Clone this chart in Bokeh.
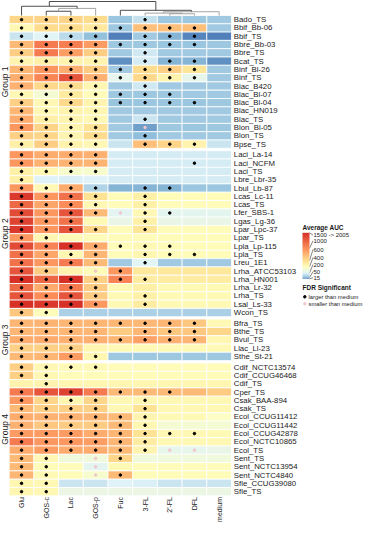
import numpy as np
from bokeh.plotting import figure
from bokeh.models import ColumnDataSource, LinearColorMapper, ColorBar, Range1d, FixedTicker
from bokeh.embed import file_html
from bokeh.resources import INLINE
from bokeh.core.properties import value

# ---------------- data ----------------
conditions = ["Glu", "GOS-c", "Lac", "GOS-p", "Fuc", "3-FL", "2'-FL", "DFL", "medium"]
group_names = ["Group 1", "Group 2", "Group 3", "Group 4"]

group1_strains = ["Bado_TS", "Bbif_Bb-06", "Bbif_TS", "Bbre_Bb-03", "Bbre_TS", "Bcat_TS",
                  "Binf_Bl-26", "Binf_TS", "Blac_B420", "Blac_Bl-07", "Blac_Bl-04",
                  "Blac_HN019", "Blac_TS", "Blon_Bl-05", "Blon_TS", "Bpse_TS"]
group1_auc = [
    [650, 660, 660, 620, 70, 150, 75, 75, 80],
    [450, 620, 620, 540, 75, 760, 760, 760, 80],
    [160, 210, 130, 55, 22, 80, 45, 24, 22],
    [780, 1100, 1080, 930, 75, 75, 70, 70, 75],
    [690, 1100, 920, 690, 80, 170, 80, 80, 80],
    [470, 500, 470, 480, 28, 180, 45, 45, 28],
    [800, 950, 840, 700, 80, 620, 680, 560, 80],
    [840, 1030, 1300, 820, 240, 640, 480, 250, 80],
    [820, 640, 620, 460, 80, 170, 80, 80, 80],
    [450, 330, 530, 430, 75, 75, 75, 80, 80],
    [680, 450, 640, 470, 65, 70, 70, 70, 75],
    [800, 450, 480, 460, 80, 80, 80, 80, 80],
    [850, 500, 470, 450, 80, 160, 80, 80, 80],
    [950, 660, 480, 580, 80, 35, 75, 70, 75],
    [680, 650, 470, 620, 80, 50, 80, 80, 80],
    [500, 690, 480, 450, 160, 760, 660, 480, 160],
]
group1_sig = ["111101000", "111111110", "111101110", "111111110", "111101000", "111101110",
              "111111110", "111111110", "111101000", "111111100", "111111110", "111100000",
              "111101000", "111102000", "111101000", "111101110"]

group2_strains = ["Laci_La-14", "Laci_NCFM", "Laci_TS", "Lbre_Lbr-35", "Lbul_Lb-87",
                  "Lcas_Lc-11", "Lcas_TS", "Lfer_SBS-1", "Lgas_Lg-36", "Lpar_Lpc-37",
                  "Lpar_TS", "Lpla_Lp-115", "Lpla_TS", "Lreu_1E1", "Lrha_ATCC53103",
                  "Lrha_HN001", "Lrha_Lr-32", "Lrha_TS", "Lsal_Ls-33", "Wcon_TS"]
group2_auc = [
    [950, 850, 850, 830, 180, 180, 180, 180, 180],
    [950, 820, 810, 810, 180, 180, 180, 180, 180],
    [500, 450, 350, 350, 180, 180, 180, 180, 180],
    [500, 200, 190, 200, 180, 180, 180, 180, 180],
    [950, 450, 850, 110, 45, 45, 45, 70, 70],
    [1450, 950, 1150, 580, 430, 500, 430, 430, 430],
    [1200, 880, 1000, 450, 420, 500, 420, 420, 420],
    [1350, 950, 1300, 780, 220, 450, 230, 230, 230],
    [1400, 950, 1150, 440, 260, 500, 260, 260, 260],
    [1450, 950, 1300, 650, 430, 560, 430, 430, 430],
    [950, 460, 440, 430, 430, 430, 430, 430, 430],
    [1350, 1050, 1550, 850, 430, 450, 430, 430, 430],
    [1150, 880, 460, 800, 430, 460, 430, 430, 430],
    [1150, 950, 1100, 780, 80, 210, 80, 80, 80],
    [1300, 700, 480, 430, 950, 550, 550, 550, 550],
    [1550, 1200, 1600, 680, 1050, 520, 520, 520, 520],
    [1200, 850, 1100, 700, 440, 500, 440, 440, 440],
    [1300, 1000, 1300, 700, 440, 500, 440, 440, 440],
    [1550, 1450, 1500, 950, 440, 520, 440, 440, 440],
    [720, 420, 100, 100, 100, 100, 100, 100, 100],
]
group2_sig = ["111100000", "111100010", "111100000", "100000000", "111101100",
              "111101000", "111101000", "111121100", "111001000", "111101000",
              "110000000", "111111100", "111101110", "111101000", "110210000",
              "111111000", "111100000", "111101000", "111101000", "110000000"]

group3_strains = ["Bfra_TS", "Bthe_TS", "Bvul_TS", "Llac_Ll-23", "Sthe_St-21"]
group3_auc = [
    [800, 810, 800, 800, 800, 790, 800, 720, 440],
    [800, 800, 800, 800, 700, 800, 720, 720, 650],
    [850, 850, 830, 830, 800, 900, 820, 800, 460],
    [680, 680, 680, 460, 440, 440, 440, 440, 440],
    [780, 800, 930, 460, 75, 75, 75, 75, 75],
]
group3_sig = ["111111110", "111101110", "111111110", "111000000", "111100000"]

group4_strains = ["Cdif_NCTC13574", "Cdif_CCUG46468", "Cdif_TS", "Cper_TS", "Csak_BAA-894",
                  "Csak_TS", "Ecol_CCUG11412", "Ecol_CCUG11442", "Ecol_CCUG42878",
                  "Ecol_NCTC10865", "Ecol_TS", "Sent_TS", "Sent_NCTC13954", "Sent_NCTC4840",
                  "Sfle_CCUG39080", "Sfle_TS"]
group4_auc = [
    [680, 450, 440, 440, 430, 430, 430, 430, 430],
    [680, 450, 430, 430, 430, 430, 430, 430, 430],
    [480, 470, 460, 460, 460, 460, 460, 460, 460],
    [1100, 1300, 1400, 1100, 780, 780, 780, 780, 700],
    [950, 650, 460, 650, 450, 460, 450, 450, 450],
    [780, 680, 680, 680, 450, 580, 450, 450, 450],
    [850, 820, 820, 800, 780, 470, 440, 440, 380],
    [820, 720, 700, 700, 780, 460, 330, 330, 330],
    [930, 930, 930, 850, 800, 580, 450, 450, 440],
    [1100, 950, 950, 920, 800, 520, 450, 450, 450],
    [850, 920, 850, 850, 780, 470, 250, 250, 260],
    [780, 450, 300, 300, 650, 300, 300, 300, 300],
    [780, 430, 420, 230, 440, 420, 420, 420, 420],
    [800, 440, 430, 350, 780, 430, 430, 430, 430],
    [460, 450, 160, 160, 200, 190, 160, 160, 160],
    [460, 450, 270, 270, 270, 270, 270, 270, 270],
]
group4_sig = ["111100000", "110000000", "010000000", "111111100", "111101000",
              "111101000", "111111000", "111111000", "111111110", "111111000",
              "111111220", "110210000", "110200000", "110210000", "110000000", "110000000"]

# column dendrogram: merge steps (children are condition names or earlier nodes "n<i>")
dend_left = ["GOS-c", "n0", "Glu", "2'-FL", "3-FL", "n4", "Fuc", "n2"]
dend_right = ["Lac", "GOS-p", "n1", "DFL", "n3", "medium", "n5", "n6"]
dend_height = [6.0, 10.0, 13.0, 2.5, 3.3, 5.3, 7.3, 19.7]
dend_color = ["#3a3a3a", "#9a9a9a", "#3a3a3a", "#9a9a9a", "#9a9a9a", "#9a9a9a", "#3a3a3a", "#3a3a3a"]

legend_ticks = [15, 50, 200, 400, 600, 1000, 1500]
legend_tick_labels = ["15", "50", "200", "400", "600", "1000", "1500 -> 2005"]
break_colors = ["#4575b4", "#91bfdb", "#e0f3f8", "#ffffbf", "#fee090", "#fc8d59", "#d73027"]

# ---------------- layout (page pixels) ----------------
W, H = 363, 522
def PX(x):
    return x - 8
def PY(y):
    return 530 - y

FONT = value("Liberation Sans")
hm_left = 16.7
cw = 24.7
hm_top = 23.0
rh = 8.3
gap = 2.4

# ---------------- color mapper ----------------
lo, hi = legend_ticks[0], legend_ticks[-1]
rgb = np.array([[int(c[i:i + 2], 16) for i in (1, 3, 5)] for c in break_colors], float)
vals = np.linspace(lo, hi, 600)
pal = []
for v in vals:
    r = np.interp(v, legend_ticks, rgb[:, 0])
    g = np.interp(v, legend_ticks, rgb[:, 1])
    b = np.interp(v, legend_ticks, rgb[:, 2])
    pal.append("#%02x%02x%02x" % (int(round(r)), int(round(g)), int(round(b))))
mapper = LinearColorMapper(palette=pal, low=lo, high=hi)

# ---------------- build cell table ----------------
groups = [(group1_strains, group1_auc, group1_sig),
          (group2_strains, group2_auc, group2_sig),
          (group3_strains, group3_auc, group3_sig),
          (group4_strains, group4_auc, group4_sig)]

cx, cy, cv = [], [], []
d1x, d1y, d2x, d2y = [], [], [], []
lab_x, lab_y, lab_t = [], [], []
grp_y = []
k = 0
for gi, (strains, auc, sig) in enumerate(groups):
    ys = []
    for ri, name in enumerate(strains):
        top = hm_top + k * rh + gi * gap
        yc = PY(top + rh / 2)
        ys.append(yc)
        for ci in range(len(conditions)):
            xc = PX(hm_left + (ci + 0.5) * cw)
            cx.append(xc); cy.append(yc); cv.append(auc[ri][ci])
            if sig[ri][ci] == "1":
                d1x.append(xc); d1y.append(yc)
            elif sig[ri][ci] == "2":
                d2x.append(xc); d2y.append(yc)
        lab_x.append(PX(hm_left + len(conditions) * cw + 2.3)); lab_y.append(yc); lab_t.append(name)
        k += 1
    grp_y.append((ys[0] + ys[-1]) / 2)
hm_bottom = hm_top + k * rh + 3 * gap

p = figure(width=W, height=H, output_backend="svg", toolbar_location=None,
           x_range=Range1d(0, W), y_range=Range1d(0, H), min_border=0)
p.axis.visible = False
p.grid.visible = False
p.outline_line_color = None
p.background_fill_color = "white"
p.border_fill_color = "white"

src = ColumnDataSource(dict(x=cx, y=cy, val=cv))
p.rect(x="x", y="y", width=cw, height=rh, source=src,
       fill_color={"field": "val", "transform": mapper},
       line_color="white", line_width=0.8)
p.scatter(d1x, d1y, size=2.5, color="black", marker="circle")
p.scatter(d2x, d2y, size=2.5, color="#f3c6cd", marker="circle")

# row labels
p.text(lab_x, lab_y, text=lab_t, text_font=FONT, text_font_size="7.8px",
       text_align="left", text_baseline="middle", text_color="#1a1a1a")
# column labels
col_x = [PX(hm_left + (ci + 0.5) * cw) for ci in range(len(conditions))]
p.text(col_x, [PY(hm_bottom + 1.2)] * len(conditions), text=conditions, angle=np.pi / 2,
       text_font=FONT, text_font_size="7px", text_align="right", text_baseline="middle",
       text_color="#1a1a1a")
# group labels
p.text([PX(12.4)] * 4, grp_y, text=group_names, angle=np.pi / 2, text_font=FONT,
       text_font_size="8.5px", text_align="center", text_baseline="middle", text_color="#1a1a1a")

# dendrogram
scale = (hm_top - 9.0) / max(dend_height)
pos = {c: (PX(hm_left + (i + 0.5) * cw), PY(hm_top)) for i, c in enumerate(conditions)}
sx0, sy0, sx1, sy1, sc = [], [], [], [], []
for i, (a, b, h, col) in enumerate(zip(dend_left, dend_right, dend_height, dend_color)):
    ax, ay = pos[a]
    bx, by = pos[b]
    ny = PY(hm_top - h * scale)
    sx0 += [ax, ax, bx]; sy0 += [ny, ay, by]
    sx1 += [bx, ax, bx]; sy1 += [ny, ny, ny]
    sc += [col] * 3
    pos["n%d" % i] = ((ax + bx) / 2, ny)
p.segment(sx0, sy0, sx1, sy1, line_color=sc, line_width=0.9)

# legend: Average AUC
p.text([PX(310)], [PY(234.5)], text=["Average AUC"], text_font=FONT, text_font_size="6.5px",
       text_font_style="bold", text_align="left", text_baseline="middle", text_color="#1a1a1a")
bar_top, bar_bot = 240.3, 286.3
cb = ColorBar(color_mapper=mapper, location=(PX(310), PY(bar_bot)), width=7,
              height=int(bar_bot - bar_top), padding=0, ticker=FixedTicker(ticks=[]),
              major_label_text_font_size="0px", major_tick_line_color=None,
              bar_line_color=None, border_line_color=None, background_fill_alpha=0,
              title=None)
p.add_layout(cb)
label_page_y = [285.3, 279.0, 272.0, 265.0, 257.0, 248.3, 242.7]
tick_y = [PY(bar_bot - (t - lo) / (hi - lo) * (bar_bot - bar_top)) for t in legend_ticks]
p.segment([PX(317)] * 7, tick_y, [PX(320.5)] * 7, [PY(v) for v in label_page_y],
          line_color="#333333", line_width=0.6)
p.text([PX(321)] * 7, [PY(v) for v in label_page_y], text=legend_tick_labels, text_font=FONT,
       text_font_size="6px", text_align="left", text_baseline="middle", text_color="#1a1a1a")

# legend: FDR Significant
p.text([PX(310)], [PY(295)], text=["FDR Significant"], text_font=FONT, text_font_size="6.5px",
       text_font_style="bold", text_align="left", text_baseline="middle", text_color="#1a1a1a")
p.scatter([PX(312.3)], [PY(304.3)], size=2.5, color="black", marker="circle")
p.scatter([PX(312.3)], [PY(311.3)], size=2.5, color="#f3c6cd", marker="circle")
p.text([PX(316)] * 2, [PY(304.3), PY(311.3)], text=["larger than medium", "smaller than medium"],
       text_font=FONT, text_font_size="5.8px", text_align="left", text_baseline="middle",
       text_color="#1a1a1a")

open("out.html", "w").write(file_html(p, INLINE))
